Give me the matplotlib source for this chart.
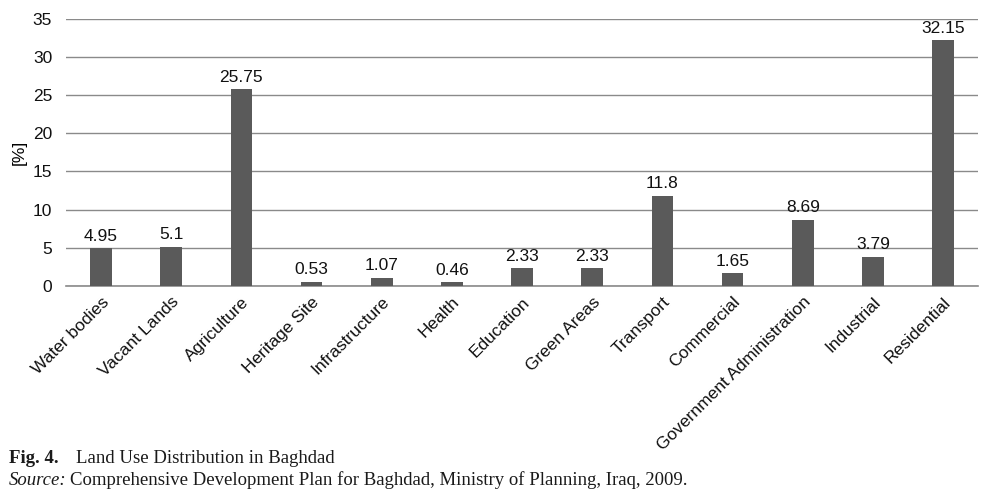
import matplotlib.pyplot as plt
import numpy as np

categories = ['Water bodies', 'Vacant Lands', 'Agriculture', 'Heritage Site', 'Infrastructure',
              'Health', 'Education', 'Green Areas', 'Transport', 'Commercial',
              'Government Administration', 'Industrial', 'Residential']
values = [4.95, 5.1, 25.75, 0.53, 1.07, 0.46, 2.33, 2.33, 11.8, 1.65, 8.69, 3.79, 32.15]
value_labels = ['4.95', '5.1', '25.75', '0.53', '1.07', '0.46', '2.33', '2.33', '11.8', '1.65', '8.69', '3.79', '32.15']
yticks = [0, 5, 10, 15, 20, 25, 30, 35]

plt.rcParams['font.family'] = ['Liberation Sans', 'DejaVu Sans']

fig = plt.figure(figsize=(9.91, 4.96), dpi=100)
ax = fig.add_axes([0.0666, 0.4234, 0.9204, 0.5393])

x = np.arange(len(categories))
ax.bar(x, values, width=0.31, color='#5a5a5a', zorder=3)
for xi, v, lab in zip(x, values, value_labels):
    ax.text(xi, v + 0.6, lab, ha='center', va='bottom', fontsize=12.5, color='#111111')

ax.set_xlim(-0.5, len(categories) - 0.5)
ax.set_ylim(0, 35)
ax.set_yticks(yticks)
ax.yaxis.grid(True, color='#8a8a8a', linewidth=1.0, zorder=0)
ax.set_axisbelow(True)
for s in ['top', 'right', 'left']:
    ax.spines[s].set_visible(False)
ax.spines['bottom'].set_color('#8a8a8a')
ax.spines['bottom'].set_linewidth(1.2)
ax.tick_params(axis='both', length=0, labelsize=12.5, colors='#111111')
ax.tick_params(axis='y', pad=10)
ax.set_xticks(x)
ax.set_xticklabels(categories, rotation=45, ha='right', rotation_mode='anchor')
ax.tick_params(axis='x', pad=6)
ax.set_ylabel('[%]', fontsize=12.5, labelpad=4)

cap = dict(fontsize=13.5, family='Liberation Serif', color='#1a1a1a')
fig.text(0.009, 0.066, 'Fig. 4.', fontweight='bold', **cap)
fig.text(0.077, 0.066, 'Land Use Distribution in Baghdad', **cap)
fig.text(0.009, 0.022, 'Source:', style='italic', **cap)
fig.text(0.071, 0.022, 'Comprehensive Development Plan for Baghdad, Ministry of Planning, Iraq, 2009.', **cap)

fig.savefig('out.png', dpi=100)
